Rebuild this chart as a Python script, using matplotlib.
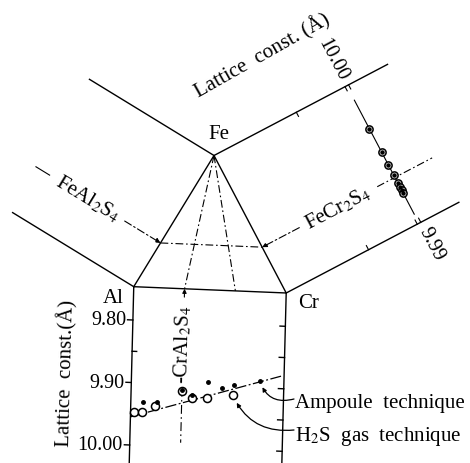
import numpy as np
import matplotlib
matplotlib.use('Agg')
from matplotlib import pyplot as plt
from matplotlib.transforms import Affine2D

# Al-Cr join (bottom panel): Cr fraction and lattice const (A)
amp_x = [0.078, 0.170, 0.332, 0.398, 0.505, 0.598, 0.676, 0.840]
amp_a = [9.931, 9.929, 9.908, 9.916, 9.894, 9.903, 9.897, 9.889]
h2s_x = [0.025, 0.077, 0.161, 0.332, 0.399, 0.497, 0.667]
h2s_a = [9.947, 9.947, 9.936, 9.910, 9.921, 9.920, 9.914]
fit_x = [0.0, 0.98]
fit_a = [9.955, 9.880]
bot_major = [9.80, 9.90, 10.00]
bot_minor = [9.85, 9.95]
bot_labels = ['9.80', '9.90', '10.00']

# Fe-Cr panel: lattice const along the panel (10.00 on Fe side, 9.99 on Cr side)
fecr_a = [9.99686, 9.99519, 9.99423, 9.99349, 9.99290, 9.99263, 9.99240, 9.99220]
fecr_line = [9.99895, 9.99066]
fecr_ticks = [10.00, 9.99]
fecr_labels = ['10.00', '9.99']

plt.rcParams['font.family'] = 'serif'
plt.rcParams['font.serif'] = ['Liberation Serif', 'DejaVu Serif']
plt.rcParams['mathtext.fontset'] = 'stix'

fig = plt.figure(figsize=(4.7, 4.64), dpi=100)
ax = fig.add_axes([0, 0, 1, 1])
ax.set_xlim(0, 470)
ax.set_ylim(464, 0)
ax.axis('off')

FS = 15
LW = 1.0
DD = (0, (7, 2.5, 1.5, 2.5))  # dash-dot

# bottom panel frame: (Cr fraction, lattice const) -> page pixels
A_TOP = 9.7467
bot_aff = Affine2D(np.array([[152.45, -16.0, 132.9 + 16.0 * 9.80],
                             [6.3, 625.0, 321.0 - 625.0 * 9.80],
                             [0, 0, 1]]))
bot = bot_aff + ax.transData
AL = bot_aff.transform((0, A_TOP))
CR = bot_aff.transform((1, A_TOP))
FE = np.array([214.0, 156.5])


def side_panel(p0, p1):
    # (s along p0->p1, outward distance v) -> page pixels
    d = p1 - p0
    n = np.array([d[1], -d[0]]) / np.hypot(*d)
    if np.dot(n, p0 - (AL + CR + FE) / 3) < 0:
        n = -n
    return Affine2D(np.array([[d[0], n[0], p0[0]], [d[1], n[1], p0[1]], [0, 0, 1]])), n


fa_aff, n_fa = side_panel(AL, FE)
fc_aff, n_fc = side_panel(FE, CR)
fa = fa_aff + ax.transData
fc = fc_aff + ax.transData
# lattice const on the Fe-Cr panel: s = (10.00 - a) / 0.01
fcl = Affine2D().scale(-100, 1).translate(1000, 0) + fc

# triangle
tri = np.array([AL, FE, CR, AL])
ax.plot(tri[:, 0], tri[:, 1], color='k', lw=LW)
# outer boundaries
ax.plot([0, 0], [0, 142], color='k', lw=LW, transform=fa)
ax.plot([1, 1], [0, 146], color='k', lw=LW, transform=fa)
ax.plot([0, 0], [0, 196], color='k', lw=LW, transform=fc)
ax.plot([1, 1], [0, 195], color='k', lw=LW, transform=fc)
ax.plot([0, 0], [A_TOP, 10.03], color='k', lw=LW, transform=bot)
ax.plot([1, 1], [A_TOP, 10.03], color='k', lw=LW, transform=bot)

# guide lines inside triangle
p_fa = fa_aff.transform((1 / 3, 0))
p_fc = fc_aff.transform((2 / 3, 0))
p_ca = bot_aff.transform((1 / 3, A_TOP))
p_ca2 = bot_aff.transform((2 / 3, A_TOP))
ax.plot([p_fa[0], p_fc[0]], [p_fa[1], p_fc[1]], color='k', lw=0.8, ls=DD)
ax.plot([FE[0], p_ca[0]], [FE[1], p_ca[1]], color='k', lw=0.8, ls=DD)
ax.plot([FE[0], p_ca2[0]], [FE[1], p_ca2[1]], color='k', lw=0.8, ls=DD)

# FeAl2S4 label and leader
ax.annotate('', xy=(1 / 3, 0), xycoords=fa, xytext=(1 / 3, 42), textcoords=fa,
            arrowprops=dict(arrowstyle='-|>', lw=0.8, ls=DD, color='k', mutation_scale=7,
                            shrinkA=0, shrinkB=0))
ax.plot([1 / 3, 1 / 3], [130, 146], color='k', lw=0.8, transform=fa)
ang_fa = np.degrees(np.arctan2(n_fa[1], -n_fa[0]))
ax.text(1 / 3, 86, 'FeAl$_2$S$_4$', transform=fa, fontsize=FS, rotation=ang_fa,
        rotation_mode='anchor', ha='center', va='center')

# FeCr2S4 label and leader
ax.annotate('', xy=(2 / 3, 0), xycoords=fc, xytext=(2 / 3, 42), textcoords=fc,
            arrowprops=dict(arrowstyle='-|>', lw=0.8, ls=DD, color='k', mutation_scale=7,
                            shrinkA=0, shrinkB=0))
ax.plot([2 / 3, 2 / 3], [130, 192], color='k', lw=0.8, ls=DD, transform=fc)
ang_fc = np.degrees(np.arctan2(-n_fc[1], n_fc[0]))
ax.text(2 / 3, 86, 'FeCr$_2$S$_4$', transform=fc, fontsize=FS, rotation=ang_fc,
        rotation_mode='anchor', ha='center', va='center')

# CrAl2S4 label, leader and line in the bottom panel
ax.annotate('', xy=(1 / 3, A_TOP), xycoords=bot, xytext=(1 / 3, 9.76), textcoords=bot,
            arrowprops=dict(arrowstyle='-|>', lw=0.8, color='k', mutation_scale=6,
                            shrinkA=0, shrinkB=0))
ax.text(1 / 3, 9.834, '-CrAl$_2$S$_4$', transform=bot, fontsize=FS, rotation=88.5,
        rotation_mode='anchor', ha='center', va='center')
ax.plot([1 / 3, 1 / 3], [9.905, 9.993], color='k', lw=0.8, ls=(0, (8, 3, 1.5, 3)), transform=bot)

# bottom panel ticks
for a in bot_major:
    ax.plot([-0.035, 0], [a, a], color='k', lw=LW, transform=bot)
for a in bot_minor:
    ax.plot([0, 0.03], [a, a], color='k', lw=LW, transform=bot)
for a in bot_major + bot_minor:
    ax.plot([0.965, 1.0], [a, a], color='k', lw=LW, transform=bot)
for a, lab in zip(bot_major, bot_labels):
    ax.text(-0.045, a, lab, transform=bot, fontsize=14.5, ha='right', va='center')

# bottom panel data
ax.plot(fit_x, fit_a, color='k', lw=0.9, ls=(0, (9, 2, 1.5, 2)), transform=bot, zorder=2)
ax.plot(h2s_x, h2s_a, 'o', ms=5.8, mfc='white', mec='k', mew=1.1, transform=bot, zorder=3)
ax.plot(amp_x, amp_a, 'o', ms=2.5, color='k', transform=bot, zorder=4)

# Fe-Cr panel axis ticks and data
for v in [93, 148, 152]:
    ax.plot([0, 0.03], [v, v], color='k', lw=0.8, transform=fc)
    ax.plot([1, 0.97], [v, v], color='k', lw=0.8, transform=fc)
ax.plot(fecr_line, [150, 150], color='k', lw=0.8, transform=fcl, zorder=2)
ax.plot(fecr_a, [150] * len(fecr_a), 'o', ms=5.2, mfc='white', mec='k', mew=1.1,
        transform=fcl, zorder=3)
ax.plot(fecr_a, [150] * len(fecr_a), 'o', ms=2.2, color='k', transform=fcl, zorder=4)
ang_t = np.degrees(np.arctan2(-(CR - FE)[1], (CR - FE)[0]))
ax.text(fecr_ticks[0] + 0.0005, 150, fecr_labels[0], transform=fcl, fontsize=14.5,
        rotation=ang_t, rotation_mode='anchor', ha='right', va='center')
ax.text(fecr_ticks[1] - 0.0004, 152, fecr_labels[1], transform=fcl, fontsize=14.5,
        rotation=ang_t, rotation_mode='anchor', ha='left', va='center')

# vertex labels
ax.text(FE[0] + 5, FE[1] - 22, 'Fe', fontsize=FS, ha='center', va='center')
ax.text(AL[0] - 21, AL[1] + 11, 'Al', fontsize=FS, ha='center', va='center')
ax.text(CR[0] + 22, CR[1] + 10, 'Cr', fontsize=FS, ha='center', va='center')

# axis titles
ax.text(262, 56, 'Lattice  const. (Å)', fontsize=FS, rotation=29.5,
        rotation_mode='anchor', ha='center', va='center')
ax.text(66, 373, 'Lattice  const.(Å)', fontsize=FS, rotation=88.5,
        rotation_mode='anchor', ha='center', va='center')

# legend-like notes with curved leaders
ax.text(295, 404, 'Ampoule  technique', fontsize=FS, ha='left', va='center')
ax.text(295, 437, 'H$_2$S  gas  technique', fontsize=FS, ha='left', va='center')
ax.annotate('', xy=(amp_x[-1], amp_a[-1]), xycoords=bot, xytext=(294, 400), textcoords='data',
            arrowprops=dict(arrowstyle='-|>', lw=0.9, color='k', mutation_scale=6,
                            connectionstyle='arc3,rad=-0.45', shrinkA=0, shrinkB=5))
ax.annotate('', xy=(h2s_x[-1], h2s_a[-1]), xycoords=bot, xytext=(294, 431), textcoords='data',
            arrowprops=dict(arrowstyle='-|>', lw=0.9, color='k', mutation_scale=6,
                            connectionstyle='arc3,rad=-0.35', shrinkA=0, shrinkB=6))

fig.savefig('out.png', dpi=100)
